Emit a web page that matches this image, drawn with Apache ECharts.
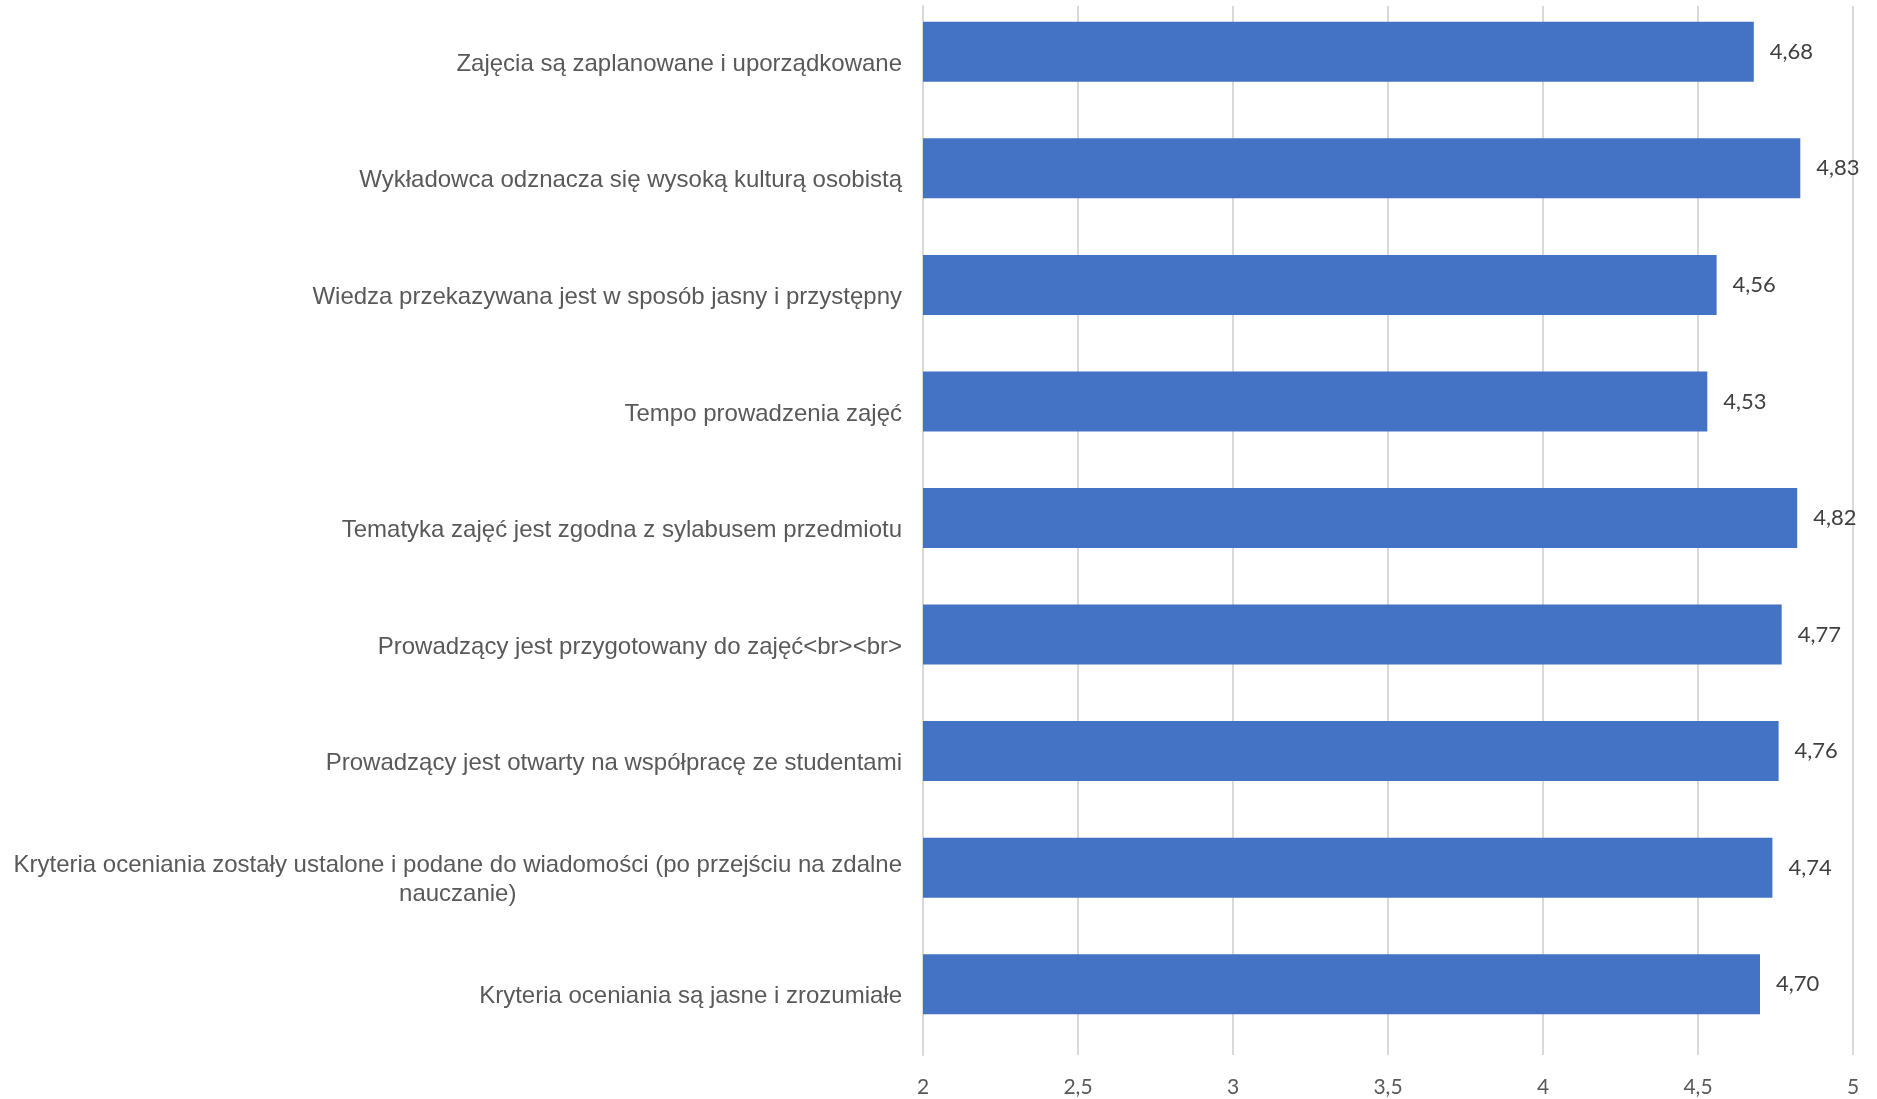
<!DOCTYPE html>
<html>
<head>
<meta charset="utf-8">
<script src="https://cdn.jsdelivr.net/npm/echarts@6/dist/echarts.min.js"></script>
<style>html,body{margin:0;padding:0;background:#fff}#c{width:1877px;height:1099px}</style>
</head>
<body>
<div id="c"></div>
<script>
const categories = [
  'Zajęcia są zaplanowane i uporządkowane',
  'Wykładowca odznacza się wysoką kulturą osobistą',
  'Wiedza przekazywana jest w sposób jasny i przystępny',
  'Tempo prowadzenia zajęć',
  'Tematyka zajęć jest zgodna z sylabusem przedmiotu',
  'Prowadzący jest przygotowany do zajęć<br><br>',
  'Prowadzący jest otwarty na współpracę ze studentami',
  'Kryteria oceniania zostały ustalone i podane do wiadomości (po przejściu na zdalne\nnauczanie)',
  'Kryteria oceniania są jasne i zrozumiałe'
];
const values = [4.68, 4.83, 4.56, 4.53, 4.82, 4.77, 4.76, 4.74, 4.70];
const axisMin = 2, axisMax = 5, axisStep = 0.5;

const chart = echarts.init(document.getElementById('c'));
chart.setOption({
  animation: false,
  grid: { left: 923, right: 24, top: 6, bottom: 44, containLabel: false },
  xAxis: {
    type: 'value', min: axisMin, max: axisMax, interval: axisStep,
    axisLine: { show: false }, axisTick: { show: false },
    splitLine: { show: true, lineStyle: { color: '#d9d9d9', width: 2 } },
    axisLabel: {
      margin: 22, color: '#595959', fontFamily: 'Lato', fontSize: 21,
      formatter: v => String(v).replace('.', ',')
    }
  },
  yAxis: {
    type: 'category', data: categories, inverse: true,
    axisLine: { show: true, lineStyle: { color: '#d9d9d9', width: 2 } },
    axisTick: { show: false },
    axisLabel: {
      interval: 0, margin: 21, align: 'right',
      formatter: v => '{t|' + v.split('\n').join('}\n{t|') + '}',
      rich: { t: { color: '#595959', fontFamily: 'Liberation Sans', fontSize: 24, lineHeight: 29, align: 'center' } }
    }
  },
  series: [
    {
      type: 'bar', data: values, barWidth: 60, barGap: '-58.3%',
      itemStyle: { color: '#4472C4' },
      label: {
        show: true, position: 'right', distance: 16,
        color: '#404040', fontFamily: 'Lato', fontSize: 22,
        formatter: p => p.value.toFixed(2).replace('.', ',')
      }
    },
    { type: 'bar', data: [], barWidth: 60 }
  ]
});
</script>
</body>
</html>
